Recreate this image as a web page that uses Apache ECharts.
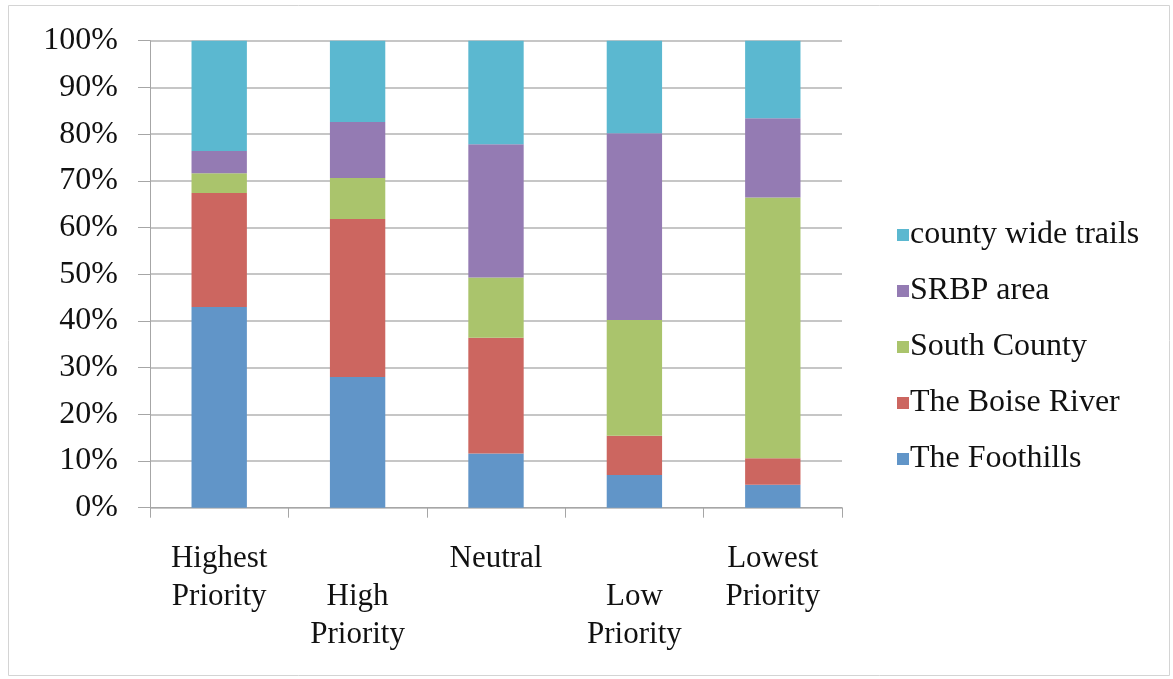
<!DOCTYPE html>
<html>
<head>
<meta charset="utf-8">
<script src="https://cdn.jsdelivr.net/npm/echarts@6/dist/echarts.min.js"></script>
<style>html,body{margin:0;padding:0;background:#fff}#c{width:1173px;height:679px}</style>
</head>
<body>
<div id="c"></div>
<script>
const categories = ["Highest Priority", "High Priority", "Neutral", "Low Priority", "Lowest Priority"];
const yTicks = [0, 10, 20, 30, 40, 50, 60, 70, 80, 90, 100];
const foothills = [43.0, 28.0, 11.6, 7.0, 4.9];
const boiseRiver = [24.4, 33.8, 24.8, 8.4, 5.7];
const southCounty = [4.2, 8.8, 12.9, 24.8, 55.8];
const srbpArea = [4.8, 12.0, 28.5, 40.0, 17.0];
const countyWide = [23.6, 17.4, 22.2, 19.8, 16.6];
const seriesNames = ["The Foothills", "The Boise River", "South County", "SRBP area", "county wide trails"];
const colors = ["#6195C8", "#CC6660", "#AAC46C", "#947BB3", "#5BB8D0"];
const seriesData = [foothills, boiseRiver, southCounty, srbpArea, countyWide];

const FONT = "Liberation Serif";
const labelLines = {
  "Highest Priority": "Highest\nPriority",
  "High Priority": "\nHigh\nPriority",
  "Neutral": "Neutral",
  "Low Priority": "\nLow\nPriority",
  "Lowest Priority": "Lowest\nPriority"
};

const chart = echarts.init(document.getElementById('c'), null, {renderer: 'canvas'});
chart.setOption({
  backgroundColor: '#fff',
  animation: false,
  graphic: [{
    type: 'rect', shape: {x: 8.5, y: 5.5, width: 1161, height: 670},
    style: {fill: 'none', stroke: '#d4d4d4', lineWidth: 1}, silent: true
  }],
  grid: {left: 150, right: 331, top: 40.7, bottom: 171.3, containLabel: false},
  legend: {
    orient: 'vertical', left: 892, top: 214,
    data: seriesNames.slice().reverse(),
    itemWidth: 12, itemHeight: 12, itemGap: 24,
    icon: 'rect',
    textStyle: {fontFamily: FONT, fontSize: 32, color: '#111', lineHeight: 30, padding: [0, 0, 0, -4]}
  },
  xAxis: {
    type: 'category', data: categories, boundaryGap: true,
    axisLine: {lineStyle: {color: '#a6a6a6', width: 1}},
    axisTick: {show: true, length: 10, lineStyle: {color: '#a6a6a6'}},
    axisLabel: {
      interval: 0, margin: 32, fontFamily: FONT, fontSize: 31, color: '#111', lineHeight: 38,
      formatter: v => labelLines[v] || v
    }
  },
  yAxis: {
    type: 'value', min: 0, max: 100, interval: 10,
    axisLine: {show: true, lineStyle: {color: '#a6a6a6'}},
    axisTick: {show: true, length: 12, lineStyle: {color: '#a6a6a6'}},
    splitLine: {lineStyle: {color: '#b3b3b3', width: 1.5}},
    axisLabel: {
      margin: 32, fontFamily: FONT, fontSize: 32, color: '#111',
      formatter: v => yTicks.includes(v) ? v + '%' : ''
    }
  },
  series: seriesData.map((d, i) => ({
    name: seriesNames[i], type: 'bar', stack: 'total', data: d,
    barWidth: '40%',
    itemStyle: {color: colors[i]}
  }))
});
</script>
</body>
</html>
